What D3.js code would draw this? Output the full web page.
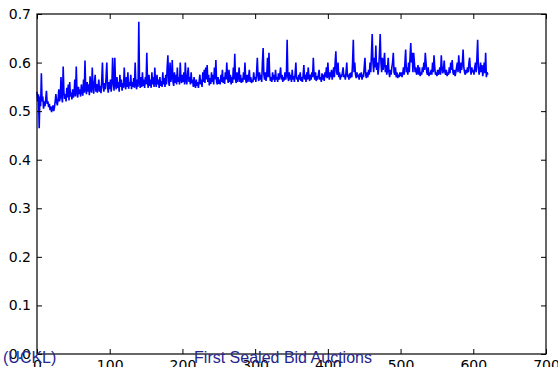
<!DOCTYPE html>
<html>
<head>
<meta charset="utf-8">
<script src="https://cdn.jsdelivr.net/npm/d3@7"></script>
<style>
  html, body { margin: 0; padding: 0; background: #fff; overflow: hidden; }
  svg { display: block; }
</style>
</head>
<body>
<div id="container"></div>
<script>
// tick labels
const xTicks = [0, 100, 200, 300, 400, 500, 600, 700];
const yTicks = [0, 0.1, 0.2, 0.3, 0.4, 0.5, 0.6, 0.7];

// series values, one per round (x = index) in blocks of 100
const seg0 = [0.54,0.52,0.535,0.465,0.53,0.51,0.578,0.52,0.53,0.505,0.52,0.51,0.525,0.542,0.515,0.52,0.508,0.515,0.502,0.51,
  0.498,0.505,0.512,0.5,0.508,0.52,0.535,0.518,0.512,0.525,0.545,0.52,0.528,0.57,0.53,0.518,0.592,0.54,0.525,0.535,
  0.52,0.548,0.528,0.555,0.522,0.56,0.53,0.538,0.524,0.545,0.528,0.535,0.565,0.53,0.592,0.54,0.528,0.55,0.535,0.545,
  0.53,0.555,0.54,0.532,0.565,0.538,0.604,0.545,0.535,0.56,0.54,0.555,0.533,0.572,0.545,0.538,0.59,0.55,0.536,0.56,
  0.575,0.54,0.556,0.538,0.548,0.565,0.54,0.552,0.537,0.562,0.6,0.55,0.54,0.558,0.545,0.57,0.6,0.55,0.538,0.56];
const seg1 = [0.545,0.565,0.54,0.555,0.61,0.56,0.542,0.61,0.555,0.545,0.57,0.548,0.56,0.54,0.575,0.55,0.565,0.542,0.558,0.548,
  0.59,0.555,0.545,0.57,0.55,0.58,0.546,0.56,0.552,0.575,0.545,0.56,0.55,0.568,0.548,0.6,0.555,0.545,0.565,0.55,
  0.684,0.56,0.548,0.57,0.55,0.58,0.552,0.565,0.548,0.57,0.555,0.62,0.56,0.548,0.575,0.552,0.565,0.548,0.58,0.555,
  0.57,0.55,0.59,0.56,0.55,0.575,0.555,0.565,0.548,0.57,0.552,0.562,0.55,0.58,0.555,0.568,0.55,0.575,0.555,0.59,
  0.615,0.56,0.552,0.6,0.56,0.57,0.605,0.56,0.552,0.58,0.558,0.575,0.555,0.59,0.56,0.57,0.555,0.6,0.565,0.558];
const seg2 = [0.575,0.56,0.58,0.555,0.6,0.565,0.555,0.575,0.59,0.56,0.57,0.555,0.58,0.558,0.565,0.55,0.57,0.555,0.548,0.565,
  0.552,0.56,0.548,0.562,0.575,0.555,0.565,0.55,0.58,0.56,0.585,0.558,0.59,0.565,0.595,0.56,0.575,0.553,0.568,0.556,
  0.58,0.56,0.575,0.555,0.59,0.565,0.605,0.56,0.555,0.57,0.556,0.565,0.555,0.575,0.56,0.585,0.558,0.57,0.556,0.58,
  0.565,0.6,0.57,0.558,0.585,0.56,0.575,0.555,0.57,0.558,0.59,0.565,0.618,0.565,0.558,0.58,0.56,0.57,0.59,0.56,
  0.575,0.558,0.568,0.56,0.58,0.565,0.6,0.565,0.558,0.575,0.56,0.57,0.585,0.56,0.57,0.558,0.565,0.56,0.58,0.565];
const seg3 = [0.57,0.56,0.58,0.61,0.57,0.562,0.58,0.565,0.575,0.56,0.6,0.63,0.575,0.565,0.58,0.562,0.575,0.61,0.57,0.62,
  0.575,0.562,0.57,0.56,0.58,0.565,0.575,0.56,0.585,0.565,0.57,0.56,0.578,0.565,0.575,0.59,0.565,0.575,0.56,0.57,
  0.563,0.58,0.565,0.575,0.647,0.57,0.562,0.58,0.565,0.575,0.56,0.585,0.565,0.572,0.56,0.578,0.6,0.565,0.57,0.56,
  0.575,0.565,0.58,0.562,0.57,0.56,0.575,0.595,0.565,0.575,0.56,0.58,0.565,0.59,0.57,0.562,0.575,0.565,0.58,0.57,
  0.61,0.575,0.565,0.58,0.562,0.572,0.565,0.575,0.585,0.565,0.57,0.56,0.578,0.565,0.575,0.562,0.58,0.57,0.59,0.568];
const seg4 = [0.6,0.575,0.565,0.58,0.57,0.585,0.565,0.575,0.59,0.57,0.6,0.623,0.58,0.575,0.6,0.57,0.58,0.565,0.575,0.57,
  0.58,0.59,0.57,0.575,0.565,0.58,0.6,0.57,0.575,0.565,0.578,0.568,0.58,0.57,0.6,0.647,0.58,0.6,0.575,0.568,
  0.58,0.57,0.575,0.565,0.578,0.57,0.58,0.565,0.575,0.57,0.59,0.61,0.575,0.568,0.58,0.57,0.585,0.575,0.6,0.58,
  0.62,0.659,0.6,0.58,0.61,0.59,0.635,0.585,0.6,0.575,0.59,0.62,0.659,0.6,0.58,0.61,0.585,0.6,0.62,0.58,
  0.595,0.575,0.585,0.61,0.58,0.57,0.585,0.575,0.59,0.6,0.62,0.58,0.575,0.59,0.57,0.58,0.568,0.575,0.57,0.58];
const seg5 = [0.572,0.58,0.57,0.578,0.59,0.575,0.6,0.627,0.58,0.59,0.575,0.6,0.58,0.61,0.64,0.6,0.62,0.58,0.62,0.6,
  0.58,0.59,0.575,0.58,0.595,0.575,0.59,0.572,0.58,0.575,0.59,0.58,0.6,0.585,0.62,0.6,0.58,0.575,0.59,0.572,
  0.58,0.575,0.585,0.575,0.6,0.58,0.615,0.59,0.575,0.58,0.572,0.585,0.575,0.58,0.59,0.575,0.615,0.59,0.578,0.585,
  0.604,0.58,0.575,0.585,0.572,0.58,0.575,0.59,0.578,0.6,0.585,0.605,0.58,0.575,0.585,0.572,0.58,0.59,0.6,0.58,
  0.615,0.59,0.578,0.6,0.585,0.6,0.627,0.59,0.58,0.575,0.585,0.578,0.59,0.58,0.6,0.61,0.585,0.575,0.59,0.58];
const seg6 = [0.585,0.575,0.59,0.6,0.58,0.61,0.647,0.59,0.575,0.585,0.6,0.58,0.595,0.572,0.585,0.6,0.578,0.62,0.57,0.58,0.575];

const values = [].concat(seg0, seg1, seg2, seg3, seg4, seg5, seg6);

// footer texts of the slide
const footerLeft = "(UCKL)";
const footerTitle = "First Sealed Bid Auctions";

const width = 558,
  height = 367;
const margin = { top: 14, right: 12, bottom: 13, left: 37 };
const innerW = width - margin.left - margin.right,
  innerH = height - margin.top - margin.bottom;

const svg = d3
  .select("#container")
  .append("svg")
  .attr("width", width)
  .attr("height", height);

const chart = svg
  .append("g")
  .attr("transform", "translate(" + margin.left + "," + margin.top + ")");

const x = d3.scaleLinear().domain([0, 700]).range([0, innerW]);
const y = d3.scaleLinear().domain([0, 0.7]).range([innerH, 0]);

// the line
const line = d3
  .line()
  .x((d, i) => x(i))
  .y(d => y(d));

chart
  .append("path")
  .datum(values)
  .attr("fill", "none")
  .attr("stroke", "#0000ff")
  .attr("stroke-width", 1.6)
  .attr("stroke-linejoin", "miter")
  .attr("d", line);

// axes, ticks pointing inwards like matplotlib
const tickFont = g =>
  g
    .attr("font-family", "'DejaVu Sans', sans-serif")
    .attr("font-size", "14px")
    .attr("fill", "#222");

chart
  .append("g")
  .attr("transform", "translate(0," + innerH + ")")
  .call(
    d3.axisBottom(x).tickValues(xTicks).tickSizeInner(-5).tickSizeOuter(0).tickPadding(6).tickFormat(d3.format("d"))
  )
  .call(g => g.select(".domain").remove())
  .call(tickFont);

chart
  .append("g")
  .call(
    d3.axisLeft(y).tickValues(yTicks).tickSizeInner(-5).tickSizeOuter(0).tickPadding(6).tickFormat(d3.format(".1f"))
  )
  .call(g => g.select(".domain").remove())
  .call(tickFont);

chart
  .append("g")
  .call(d3.axisTop(x).tickValues(xTicks).tickSizeInner(-5).tickSizeOuter(0).tickFormat(""))
  .call(g => g.select(".domain").remove());

chart
  .append("g")
  .attr("transform", "translate(" + innerW + ",0)")
  .call(d3.axisRight(y).tickValues(yTicks).tickSizeInner(-5).tickSizeOuter(0).tickFormat(""))
  .call(g => g.select(".domain").remove());

chart
  .append("rect")
  .attr("x", 0)
  .attr("y", 0)
  .attr("width", innerW)
  .attr("height", innerH)
  .attr("fill", "none")
  .attr("stroke", "#000")
  .attr("stroke-width", 1.2);

// slide footer drawn over the chart
const footer = svg
  .append("g")
  .attr("font-family", "'Liberation Sans', sans-serif")
  .attr("font-size", "16px")
  .attr("fill", "#262690");

footer.append("text").attr("x", 3).attr("y", 363).text(footerLeft);

footer
  .append("text")
  .attr("x", 283)
  .attr("y", 363)
  .attr("text-anchor", "middle")
  .text(footerTitle);
</script>
</body>
</html>
